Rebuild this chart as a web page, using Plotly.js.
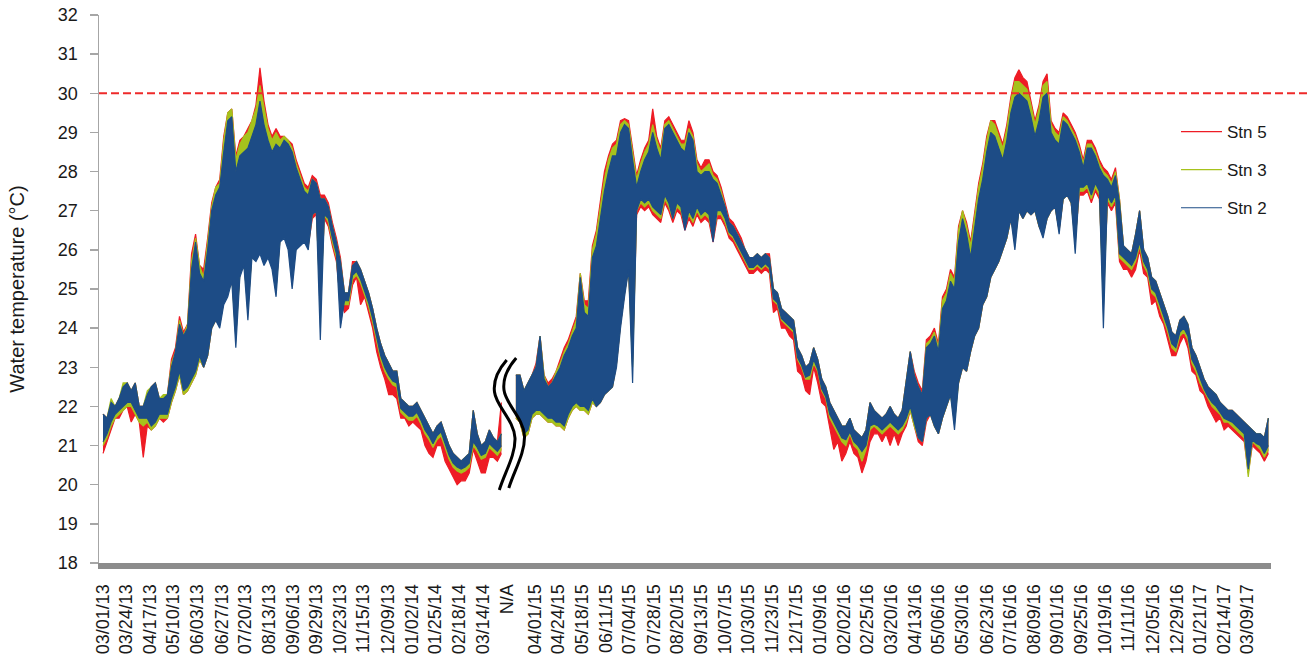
<!DOCTYPE html>
<html>
<head>
<meta charset="utf-8">
<script src="https://cdn.plot.ly/plotly-3.0.1.min.js"></script>
<style>
  html, body { margin: 0; padding: 0; background: #ffffff; }
  #chart { width: 1312px; height: 662px; }
</style>
</head>
<body>
<div id="chart"></div>
<script>
// ---------------- DATA ----------------
const tickLabels = [
  "03/01/13","03/24/13","04/17/13","05/10/13","06/03/13","06/27/13","07/20/13","08/13/13",
  "09/06/13","09/29/13","10/23/13","11/15/13","12/09/13","01/02/14","01/25/14","02/18/14",
  "03/14/14","N/A","04/01/15","04/24/15","05/18/15","06/11/15","07/04/15","07/28/15",
  "08/20/15","09/13/15","10/07/15","10/30/15","11/23/15","12/17/15","01/09/16","02/02/16",
  "02/25/16","03/20/16","04/13/16","05/06/16","05/30/16","06/23/16","07/16/16","08/09/16",
  "09/01/16","09/25/16","10/19/16","11/11/16","12/05/16","12/29/16","01/21/17","02/14/17",
  "03/09/17"
];

// Readings sampled every 4 days; each sample = high and low of the daily-cycling record (°C).
const periodAStart = "03/01/13";
const periodBStart = "03/13/15";
const sampleStepDays = 4;

// ---- Stn 2 ----
const stn2HiA = [21.8,21.7,22.1,22.0,22.2,22.5,22.6,22.4,22.6,22.0,
 22.0,22.3,22.5,22.6,22.2,22.2,22.3,23.0,23.4,24.1,
 23.8,24.0,25.5,26.2,25.4,25.2,26.0,27.0,27.4,27.6,
 28.5,29.3,29.4,28.0,28.4,28.5,28.6,28.9,29.2,29.8,
 29.2,28.8,28.5,28.7,28.6,28.8,28.7,28.5,28.1,27.8,
 27.5,27.4,27.8,27.7,27.3,27.3,27.1,26.6,26.2,25.7,
 24.9,24.9,25.6,25.7,25.5,25.2,24.9,24.5,24.0,23.6,
 23.3,23.1,22.9,22.9,22.2,22.1,22.0,22.0,22.1,21.9,
 21.7,21.5,21.3,21.5,21.6,21.3,21.0,20.8,20.7,20.6,
 20.7,20.8,21.9,21.3,21.0,21.1,21.4,21.2,21.1,21.3];
const stn2LoA = [21.1,21.3,21.6,21.8,21.9,22.0,22.1,22.1,21.9,21.7,
 21.7,21.7,21.5,21.6,21.8,21.8,21.8,22.2,22.5,22.9,
 22.4,22.5,22.7,22.9,23.3,23.0,23.3,24.0,24.2,24.0,
 24.6,24.8,25.2,23.5,25.3,25.6,24.2,25.8,25.7,25.9,
 25.6,25.8,25.5,24.8,26.2,26.3,26.0,25.0,26.0,26.1,
 26.2,26.0,26.9,27.0,23.7,26.9,26.8,26.3,25.9,24.0,
 24.7,24.7,25.35,25.45,25.25,24.95,24.65,24.25,23.75,23.3,
 23.0,22.8,22.65,22.6,21.95,21.85,21.75,21.75,21.85,21.65,
 21.4,21.25,21.05,21.25,21.35,21.05,20.75,20.55,20.45,20.4,
 20.45,20.55,21.1,20.95,20.75,20.8,21.05,20.95,20.85,21.0];
const stn2HiB = [22.8,22.8,22.4,22.6,22.8,23.0,23.8,22.7,22.5,22.6,
 22.8,23.0,23.3,23.5,23.8,24.0,25.3,24.4,24.3,25.8,
 26.1,26.8,27.5,28.0,28.4,28.4,29.0,29.2,29.1,28.3,
 27.6,28.0,28.3,28.5,29.0,28.6,28.3,29.1,29.2,29.0,
 28.8,28.6,28.5,29.0,28.8,28.0,27.9,28.0,28.0,27.8,
 27.7,27.4,27.1,26.7,26.6,26.4,26.2,26.0,25.8,25.8,
 25.9,25.8,25.9,25.8,25.0,24.9,24.5,24.4,24.3,24.2,
 23.5,23.3,23.0,23.1,23.5,23.2,22.7,22.5,22.1,21.9,
 21.7,21.5,21.5,21.7,21.4,21.3,21.2,21.4,22.1,21.9,
 21.8,21.7,21.8,22.0,21.8,21.7,21.9,22.6,23.4,22.8,
 22.5,22.3,23.5,23.6,23.8,23.4,24.5,24.7,25.2,25.0,
 26.2,26.8,26.4,25.8,26.5,27.3,27.8,28.5,29.0,28.9,
 28.6,28.3,28.8,29.5,29.9,30.0,29.9,29.8,29.4,28.9,
 29.3,29.9,30.0,29.0,28.8,28.7,29.3,29.2,29.0,28.8,
 28.5,28.1,28.6,28.6,28.4,28.1,27.9,27.8,27.6,27.9,
 27.2,26.1,26.0,25.9,26.4,27.0,26.0,25.8,25.3,25.2,
 24.9,24.6,24.3,23.9,23.8,24.2,24.3,24.1,23.5,23.3,
 23.0,22.7,22.5,22.4,22.3,22.1,22.0,21.9,21.9,21.8,
 21.7,21.6,21.5,21.4,21.3,21.3,21.2,21.7];
const stn2LoB = [21.8,21.7,21.3,21.4,21.8,21.9,21.9,21.8,21.7,21.7,
 21.6,21.6,21.5,21.8,22.0,22.1,22.0,22.0,21.9,22.2,
 22.0,22.1,22.3,22.4,22.5,23.0,24.0,24.8,25.5,22.6,
 27.0,27.3,27.2,27.3,27.1,27.0,26.9,27.4,27.2,26.8,
 27.2,27.1,26.5,27.0,26.8,27.1,26.9,27.0,26.9,26.2,
 27.0,27.0,26.8,26.45,26.35,26.15,25.95,25.75,25.55,25.55,
 25.65,25.55,25.65,25.55,24.75,24.65,24.25,24.15,24.05,23.95,
 23.25,23.05,22.75,22.8,23.2,22.95,22.45,22.25,21.8,21.6,
 21.4,21.2,21.15,21.35,21.1,21.0,20.85,21.0,21.5,21.55,
 21.5,21.4,21.5,21.6,21.5,21.4,21.5,21.7,22.0,21.6,
 21.2,21.1,21.7,21.8,21.5,21.3,21.7,22.0,22.3,21.4,
 22.6,23.0,22.9,23.4,23.8,24.0,24.6,24.8,25.3,25.5,
 25.7,26.0,26.3,26.8,26.0,27.0,26.8,27.0,26.9,27.0,
 26.6,26.3,26.8,27.0,27.1,26.4,27.3,27.4,27.2,25.9,
 27.6,27.6,27.7,27.4,27.7,27.5,24.0,27.4,27.2,27.4,
 25.9,25.8,25.7,25.6,25.8,26.2,25.7,25.5,25.0,24.9,
 24.6,24.3,24.0,23.6,23.5,23.9,24.0,23.8,23.2,23.0,
 22.7,22.45,22.25,22.1,22.0,21.85,21.7,21.65,21.6,21.5,
 21.4,21.3,20.4,21.15,21.05,21.0,20.8,21.0];

// ---- Stn 3 ----
const stn3HiA = [21.8,21.7,22.2,22.0,22.2,22.6,22.6,22.4,22.6,22.0,
 22.0,22.4,22.5,22.6,22.2,22.3,22.3,23.1,23.4,24.2,
 23.8,24.1,25.7,26.3,25.6,25.3,26.2,27.1,27.6,27.7,
 28.8,29.5,29.6,28.3,28.7,28.9,29.0,29.3,29.6,30.2,
 29.6,29.1,28.8,29.0,28.8,28.9,28.8,28.6,28.2,27.9,
 27.6,27.5,27.8,27.7,27.3,27.3,27.1,26.6,26.2,25.7,
 24.9,24.9,25.6,25.7,25.5,25.2,24.9,24.5,24.0,23.6,
 23.3,23.1,22.9,22.9,22.2,22.1,22.0,22.0,22.1,21.9,
 21.7,21.5,21.3,21.5,21.6,21.3,21.0,20.8,20.7,20.6,
 20.7,20.8,21.9,21.3,21.0,21.1,21.4,21.2,21.1,21.3];
const stn3LoA = [21.0,21.2,21.5,21.7,21.8,21.9,22.0,22.0,21.8,21.6,
 21.5,21.6,21.4,21.5,21.7,21.7,21.7,22.1,22.4,22.8,
 22.3,22.4,22.6,22.8,23.2,23.0,23.3,24.0,24.2,24.1,
 24.7,24.9,25.3,23.8,25.4,25.7,24.5,25.9,25.8,26.0,
 25.8,25.9,25.6,25.0,26.3,26.4,26.1,25.3,26.1,26.2,
 26.3,26.1,26.9,27.0,24.5,26.9,26.7,26.2,25.8,24.6,
 24.6,24.6,25.25,25.35,25.15,24.85,24.55,24.15,23.65,23.2,
 22.9,22.7,22.55,22.5,21.85,21.75,21.65,21.65,21.75,21.55,
 21.3,21.15,20.95,21.15,21.25,20.95,20.65,20.45,20.35,20.3,
 20.35,20.45,21.0,20.85,20.65,20.7,20.95,20.85,20.75,20.9];
const stn3HiB = [22.8,22.8,22.4,22.6,22.8,23.0,23.8,22.8,22.5,22.6,
 22.9,23.1,23.4,23.6,23.9,24.2,25.4,24.6,24.5,26.0,
 26.4,27.1,27.8,28.3,28.6,28.7,29.2,29.3,29.2,28.5,
 27.8,28.2,28.5,28.7,29.2,28.8,28.5,29.2,29.3,29.1,
 28.9,28.7,28.7,29.1,28.9,28.2,28.0,28.1,28.2,27.9,
 27.8,27.5,27.1,26.7,26.6,26.4,26.2,26.0,25.8,25.8,
 25.9,25.8,25.9,25.8,25.0,24.9,24.5,24.4,24.3,24.2,
 23.5,23.3,23.0,23.1,23.5,23.2,22.7,22.5,22.1,21.9,
 21.7,21.5,21.5,21.7,21.4,21.3,21.2,21.4,22.1,21.9,
 21.8,21.7,21.8,22.0,21.8,21.7,21.9,22.6,23.4,22.8,
 22.5,22.3,23.6,23.7,23.9,23.5,24.7,24.9,25.4,25.2,
 26.5,27.0,26.6,26.1,26.8,27.6,28.1,28.8,29.3,29.2,
 28.9,28.6,29.1,29.8,30.3,30.3,30.2,30.1,29.7,29.2,
 29.6,30.2,30.3,29.2,29.0,28.9,29.4,29.3,29.1,28.9,
 28.6,28.2,28.7,28.7,28.5,28.2,28.0,27.9,27.7,28.0,
 27.3,26.1,26.0,25.9,26.4,27.0,26.0,25.8,25.3,25.2,
 24.9,24.6,24.3,23.9,23.8,24.2,24.3,24.1,23.5,23.3,
 23.0,22.7,22.5,22.4,22.3,22.1,22.0,21.9,21.9,21.8,
 21.7,21.6,21.5,21.4,21.3,21.3,21.2,21.7];
const stn3LoB = [21.7,21.6,21.2,21.3,21.7,21.8,21.8,21.7,21.6,21.6,
 21.5,21.5,21.4,21.7,21.9,22.0,21.9,21.9,21.8,22.1,
 22.0,22.1,22.3,22.4,22.5,23.1,24.1,24.9,25.5,23.0,
 27.0,27.2,27.1,27.2,27.0,26.9,26.8,27.3,27.1,26.8,
 27.1,27.0,26.6,26.9,26.7,27.0,26.8,26.9,26.8,26.3,
 26.9,26.9,26.7,26.4,26.3,26.1,25.9,25.7,25.5,25.5,
 25.6,25.5,25.6,25.5,24.7,24.6,24.2,24.1,24.0,23.9,
 23.2,23.0,22.7,22.7,23.1,22.9,22.4,22.2,21.7,21.5,
 21.3,21.1,21.0,21.3,21.0,20.9,20.6,20.9,21.4,21.5,
 21.4,21.3,21.4,21.5,21.4,21.3,21.4,21.6,21.9,21.5,
 21.2,21.1,21.7,21.8,21.5,21.3,21.7,22.0,22.3,21.6,
 22.6,23.0,22.9,23.4,23.8,24.0,24.6,24.8,25.3,25.5,
 25.7,26.0,26.3,26.8,26.2,27.0,26.8,27.0,26.9,27.0,
 26.6,26.4,26.8,27.0,27.1,26.5,27.3,27.4,27.2,26.2,
 27.5,27.5,27.6,27.3,27.6,27.4,24.6,27.3,27.1,27.3,
 25.8,25.7,25.6,25.5,25.7,26.1,25.6,25.4,24.9,24.8,
 24.5,24.2,23.9,23.5,23.4,23.8,23.9,23.7,23.1,22.9,
 22.6,22.4,22.2,22.0,21.9,21.8,21.6,21.6,21.5,21.4,
 21.3,21.2,20.2,21.1,21.0,20.9,20.7,20.9];

// ---- Stn 5 ----
const stn5HiA = [21.8,21.7,22.1,22.0,22.2,22.5,22.6,22.4,22.6,22.0,
 22.0,22.3,22.5,22.6,22.2,22.2,22.3,23.2,23.5,24.3,
 23.9,24.1,25.9,26.4,25.6,25.5,26.3,27.2,27.6,27.8,
 28.9,29.5,29.6,28.4,28.8,28.9,29.1,29.3,29.7,30.65,
 29.8,29.2,28.9,29.1,28.9,28.9,28.8,28.7,28.3,28.0,
 27.7,27.6,27.9,27.8,27.4,27.4,27.2,26.7,26.3,25.8,
 24.9,24.9,25.7,25.7,25.5,25.2,24.9,24.5,24.0,23.6,
 23.3,23.1,22.9,22.9,22.2,22.1,22.0,22.0,22.1,21.9,
 21.7,21.5,21.3,21.5,21.6,21.3,21.0,20.8,20.7,20.6,
 20.7,20.8,21.9,21.3,21.0,21.1,21.4,21.2,21.1,22.1];
const stn5LoA = [20.8,21.1,21.4,21.7,21.7,21.9,22.0,21.6,21.8,21.6,
 20.7,21.5,21.4,21.5,21.7,21.6,21.7,22.1,22.4,22.8,
 22.3,22.4,22.6,22.8,23.2,23.0,23.3,24.0,24.2,24.1,
 24.7,24.9,25.3,24.0,25.4,25.7,24.6,25.9,25.8,26.0,
 25.8,25.9,25.6,25.1,26.3,26.4,26.1,25.4,26.1,26.2,
 26.3,26.1,26.8,26.9,24.8,26.8,26.6,26.1,25.7,24.7,
 24.4,24.5,25.1,25.3,24.6,24.8,24.4,24.0,23.4,23.0,
 22.7,22.3,22.3,22.2,21.7,21.7,21.5,21.6,21.5,21.4,
 21.0,20.8,20.7,21.0,21.0,20.6,20.4,20.2,20.0,20.1,
 20.1,20.3,20.9,20.6,20.3,20.3,20.7,20.7,20.6,20.8];
const stn5HiB = [22.8,22.8,22.4,22.6,22.8,23.1,23.8,22.8,22.6,22.7,
 22.9,23.2,23.5,23.7,24.0,24.3,25.4,24.7,24.7,26.1,
 26.5,27.2,28.0,28.4,28.7,28.8,29.3,29.35,29.3,28.6,
 27.9,28.3,28.6,28.8,29.6,28.9,28.6,29.3,29.4,29.2,
 29.0,28.8,28.8,29.3,29.0,28.3,28.1,28.3,28.3,28.0,
 27.9,27.6,27.2,26.8,26.7,26.5,26.3,26.0,25.8,25.8,
 25.9,25.8,25.9,25.9,25.0,24.9,24.5,24.4,24.3,24.2,
 23.5,23.3,23.0,23.1,23.5,23.2,22.7,22.5,22.1,21.9,
 21.7,21.5,21.5,21.7,21.4,21.3,21.2,21.4,22.1,21.9,
 21.8,21.7,21.8,22.0,21.8,21.7,21.9,22.7,23.4,22.9,
 22.6,22.4,23.7,23.8,24.0,23.6,24.8,25.0,25.5,25.3,
 26.6,27.0,26.7,26.2,26.9,27.7,28.2,28.9,29.3,29.3,
 29.0,28.7,29.2,29.9,30.4,30.6,30.4,30.3,29.8,29.3,
 29.7,30.3,30.5,29.3,29.1,29.0,29.5,29.4,29.2,29.0,
 28.7,28.3,28.8,28.8,28.6,28.3,28.1,28.0,27.8,28.1,
 27.3,26.1,26.0,25.9,26.4,27.0,26.0,25.8,25.3,25.2,
 24.9,24.6,24.3,23.9,23.8,24.2,24.3,24.1,23.5,23.3,
 23.0,22.7,22.5,22.4,22.3,22.1,22.0,21.9,21.9,21.8,
 21.7,21.6,21.5,21.4,21.3,21.3,21.2,21.7];
const stn5LoB = [21.7,21.6,21.2,21.3,21.7,21.8,21.8,21.7,21.6,21.6,
 21.5,21.5,21.4,21.7,21.9,22.0,21.9,21.9,21.8,22.1,
 22.0,22.1,22.3,22.4,22.5,23.1,24.1,24.9,25.5,23.2,
 26.9,27.1,27.0,27.1,26.9,26.8,26.7,27.2,27.0,26.7,
 27.0,26.9,26.5,26.8,26.6,26.9,26.7,26.8,26.7,26.2,
 26.8,26.8,26.6,26.3,26.2,26.0,25.8,25.6,25.4,25.4,
 25.5,25.4,25.5,25.4,24.4,24.5,24.0,24.0,23.8,23.7,
 22.9,22.8,22.4,22.3,23.0,22.6,22.1,22.0,21.4,20.9,
 21.1,20.6,20.8,21.1,20.8,20.7,20.3,20.6,21.1,21.3,
 21.3,21.1,21.3,21.0,21.3,21.0,21.3,21.5,21.9,21.5,
 21.1,21.0,21.6,21.8,21.5,21.3,21.7,22.0,22.3,21.8,
 22.6,23.0,22.9,23.4,23.8,24.0,24.6,24.8,25.3,25.5,
 25.7,26.0,26.3,26.8,26.3,27.0,26.8,27.0,26.9,27.0,
 26.6,26.4,26.8,27.0,27.1,26.5,27.3,27.4,27.2,26.3,
 27.4,27.4,27.5,27.2,27.5,27.3,25.0,27.2,27.0,27.2,
 25.7,25.5,25.5,25.3,25.5,26.0,25.4,25.3,24.6,24.7,
 24.3,24.1,23.7,23.3,23.3,23.6,23.8,23.5,22.9,22.8,
 22.4,22.3,22.0,21.8,21.6,21.7,21.4,21.5,21.4,21.3,
 21.2,21.1,20.3,21.0,20.9,20.8,20.6,20.8];

const threshold = 30;   // dashed reference line (°C)

// ---------------- AXIS POSITIONS ----------------
const SEG2_OFFSET = 429.4;  // axis position of 04/01/15
const NA_POS = 402;         // axis position of the N/A slot
function dayNum(y, m, d) { return Date.UTC(y, m - 1, d) / 86400000; }
const D0 = dayNum(2013, 3, 1), D15 = dayNum(2015, 4, 1);
function xOf(label) {
  if (label === "N/A") return NA_POS;
  const p = label.split("/").map(Number);
  const yr = 2000 + p[2];
  const dn = dayNum(yr, p[0], p[1]);
  return yr < 2015 ? dn - D0 : SEG2_OFFSET + dn - D15;
}
function xs(start, n) {
  const x0 = xOf(start);
  const out = [];
  for (let i = 0; i < n; i++) out.push(x0 + i * sampleStepDays);
  return out;
}

const colors = { s5: "#ee1c25", s3: "#a6c21c", s2: "#1d4c86" };

function band(name, color, lo, hi, start, showLegend) {
  const x = xs(start, Math.min(lo.length, hi.length));
  return [
    { x: x, y: lo.slice(0, x.length), type: "scatter", mode: "lines", name: name,
      legendgroup: name, showlegend: showLegend, hoverinfo: "skip",
      line: { color: color, width: 1.2 } },
    { x: x, y: hi.slice(0, x.length), type: "scatter", mode: "lines", name: name,
      legendgroup: name, showlegend: false, hoverinfo: "skip",
      fill: "tonexty", fillcolor: color, line: { color: color, width: 1.2 } }
  ];
}

const traces = [].concat(
  band("Stn 5", colors.s5, stn5LoA, stn5HiA, periodAStart, true),
  band("Stn 5", colors.s5, stn5LoB, stn5HiB, periodBStart, false),
  band("Stn 3", colors.s3, stn3LoA, stn3HiA, periodAStart, true),
  band("Stn 3", colors.s3, stn3LoB, stn3HiB, periodBStart, false),
  band("Stn 2", colors.s2, stn2LoA, stn2HiA, periodAStart, true),
  band("Stn 2", colors.s2, stn2LoB, stn2HiB, periodBStart, false)
);

// ---------------- LAYOUT ----------------
const M = { l: 99, r: 41, t: 15, b: 99 };
const PW = 1312 - M.l - M.r, PH = 662 - M.t - M.b;
function P(px, py) { return ((px - M.l) / PW).toFixed(5) + "," + ((M.t + PH - py) / PH).toFixed(5); }
function breakPath(dx, dy) {
  return "M" + P(506.7 + dx, 360 + dy) +
    " C" + P(498 + dx, 370 + dy) + " " + P(493 + dx, 380 + dy) + " " + P(494.5 + dx, 392 + dy) +
    " C" + P(496 + dx, 406 + dy) + " " + P(514 + dx, 420 + dy) + " " + P(515 + dx, 438 + dy) +
    " C" + P(515.5 + dx, 455 + dy) + " " + P(505 + dx, 472 + dy) + " " + P(499.3 + dx, 490 + dy);
}

const layout = {
  width: 1312, height: 662,
  margin: M,
  paper_bgcolor: "#ffffff", plot_bgcolor: "#ffffff",
  font: { family: "Liberation Sans, Arial, Helvetica, sans-serif", color: "#1a1a1a" },
  showlegend: true,
  legend: {
    x: (1176 - M.l) / PW, xanchor: "left",
    y: (M.t + PH - 114) / PH, yanchor: "top",
    traceorder: "grouped", tracegroupgap: 13, itemwidth: 41,
    font: { size: 17, color: "#1a1a1a" },
    bgcolor: "rgba(0,0,0,0)"
  },
  xaxis: {
    range: [-4, 1161], fixedrange: true,
    tickmode: "array", tickvals: tickLabels.map(xOf), ticktext: tickLabels,
    tickangle: -90, tickfont: { size: 18, color: "#1a1a1a" }, ticklabelstandoff: 8,
    ticks: "", showgrid: false, zeroline: false,
    showline: true, linecolor: "#8c8c8c", linewidth: 6
  },
  yaxis: {
    range: [18, 32], fixedrange: true, tick0: 18, dtick: 1,
    ticks: "outside", ticklen: 8, tickwidth: 1.5, tickcolor: "#a6a6a6",
    tickfont: { size: 18, color: "#1a1a1a" }, ticklabelstandoff: 8,
    showgrid: false, zeroline: false, automargin: "left",
    showline: true, linecolor: "#a6a6a6", linewidth: 1.5,
    title: { text: "Water temperature (°C)", standoff: 28, font: { size: 20, color: "#1a1a1a" } }
  },
  shapes: [
    { type: "line", xref: "paper", yref: "y", x0: 0, x1: (1310 - M.l) / PW, y0: threshold, y1: threshold,
      line: { color: "#ee2a2a", width: 2, dash: "8px,4px" }, layer: "above" },
    { type: "path", xref: "paper", yref: "paper", path: breakPath(0, 0),
      line: { color: "#000000", width: 3 }, layer: "above" },
    { type: "path", xref: "paper", yref: "paper", path: breakPath(9.5, -2),
      line: { color: "#000000", width: 3 }, layer: "above" }
  ]
};

Plotly.newPlot("chart", traces, layout, { displayModeBar: false, staticPlot: true });
</script>
</body>
</html>
